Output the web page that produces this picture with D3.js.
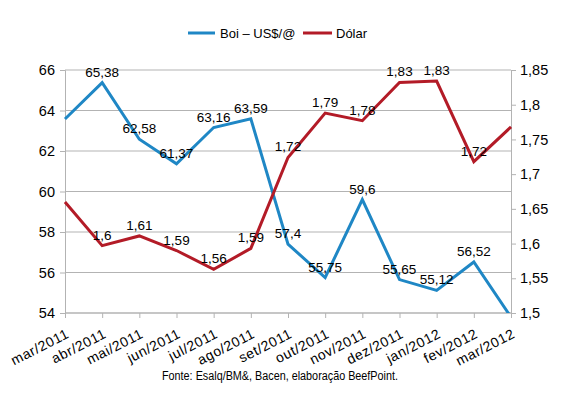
<!DOCTYPE html>
<html><head><meta charset="utf-8">
<script src="https://cdn.jsdelivr.net/npm/d3@7"></script>
<style>
body{margin:0;background:#fff;}
text{font-family:"Liberation Sans",Arial,sans-serif;fill:#000;}
</style></head>
<body><svg id="c" width="570" height="397"></svg>
<script>
const months = ["mar/2011","abr/2011","mai/2011","jun/2011","jul/2011","ago/2011","set/2011","out/2011","nov/2011","dez/2011","jan/2012","fev/2012","mar/2012"];
const boi = [63.58,65.38,62.58,61.37,63.16,63.59,57.4,55.75,59.6,55.65,55.12,56.52,53.8];
const dolar = [1.66,1.597,1.611,1.59,1.563,1.593,1.724,1.788,1.777,1.832,1.834,1.718,1.768];
const showLabel = [false,true,true,true,true,true,true,true,true,true,true,true,false];
const leftTicks = [54,56,58,60,62,64,66];
const rightTicks = [1.5,1.55,1.6,1.65,1.7,1.75,1.8,1.85];
const seriesNames = ["Boi – US$/@","Dólar"];
const colors = ["#1f87c5","#b31b27"];
const source = "Fonte: Esalq/BM&, Bacen, elaboração BeefPoint.";

const svg = d3.select("#c");
const L=65,R=511,T=70,B=313;
const x = d3.scalePoint().domain(months).range([L,R]);
const yL = d3.scaleLinear().domain([54,66]).range([B,T]);
const yR = d3.scaleLinear().domain([1.5,1.85]).range([B,T]);
const comma = s => s.replace(".",",");
const fmt = d3.format(".2~f");

// grid
svg.append("g").selectAll("line").data(leftTicks).join("line")
  .attr("x1",L).attr("x2",R).attr("y1",d=>yL(d)).attr("y2",d=>yL(d))
  .attr("stroke","#b3b3b3").attr("stroke-width",1);

// axes
const gL = svg.append("g").attr("transform",`translate(${L},0)`)
  .call(d3.axisLeft(yL).tickValues(leftTicks).tickSize(5).tickPadding(5).tickFormat(d=>d));
const gR = svg.append("g").attr("transform",`translate(${R},0)`)
  .call(d3.axisRight(yR).tickValues(rightTicks).tickSize(5).tickPadding(4).tickFormat(d=>comma(String(d))));
const gB = svg.append("g").attr("transform",`translate(0,${B})`)
  .call(d3.axisBottom(x).tickSize(5).tickFormat(""));
[gL,gR,gB].forEach(g=>{
  g.select(".domain").attr("stroke","#b3b3b3");
  g.selectAll(".tick line").attr("stroke","#b3b3b3");
  g.selectAll("text").attr("font-size","14.5px").attr("font-family","Liberation Sans, Arial, sans-serif").attr("fill","#000");
});
gB.select(".domain").attr("d",`M${L},0H${R}`);

// x labels rotated
svg.append("g").selectAll("text").data(months).join("text")
  .attr("transform",d=>`translate(${x(d)+5},${B+24}) rotate(-27)`)
  .attr("text-anchor","end").attr("font-size","14px").attr("letter-spacing","0.6px").text(d=>d);

// clip
svg.append("clipPath").attr("id","clip").append("rect")
  .attr("x",L-2).attr("y",T-10).attr("width",R-L+4).attr("height",B-T+10);

const lineL = d3.line().x((d,i)=>x(months[i])).y(d=>yL(d));
const lineR = d3.line().x((d,i)=>x(months[i])).y(d=>yR(d));
const clipG = svg.append("g").attr("clip-path","url(#clip)");
clipG.append("path").datum(boi).attr("d",lineL).attr("fill","none")
  .attr("stroke",colors[0]).attr("stroke-width",3).attr("stroke-linejoin","miter");
clipG.append("path").datum(dolar).attr("d",lineR).attr("fill","none")
  .attr("stroke",colors[1]).attr("stroke-width",3).attr("stroke-linejoin","miter");

// data labels
svg.append("g").selectAll("text").data(boi.map((v,i)=>({v,i})).filter(d=>showLabel[d.i])).join("text")
  .attr("x",d=>x(months[d.i])).attr("y",d=>yL(d.v)-6).attr("text-anchor","middle")
  .attr("font-size","13.5px").text(d=>comma(String(d.v)));
svg.append("g").selectAll("text").data(dolar.map((v,i)=>({v,i})).filter(d=>showLabel[d.i])).join("text")
  .attr("x",d=>x(months[d.i])).attr("y",d=>yR(d.v)-6).attr("text-anchor","middle")
  .attr("font-size","13.5px").text(d=>comma(fmt(d.v)));

// legend
const lg = svg.append("g");
const legendX = [[188,215,220],[303,332,336]];
seriesNames.forEach((n,i)=>{
  lg.append("line").attr("x1",legendX[i][0]).attr("x2",legendX[i][1]).attr("y1",33).attr("y2",33)
    .attr("stroke",colors[i]).attr("stroke-width",3);
  lg.append("text").attr("x",legendX[i][2]).attr("y",38).attr("font-size","13px").text(n);
});

// source
svg.append("text").attr("x",162).attr("y",380).attr("font-size","12px")
  .attr("textLength",236).attr("lengthAdjust","spacingAndGlyphs").text(source);
</script></body></html>
